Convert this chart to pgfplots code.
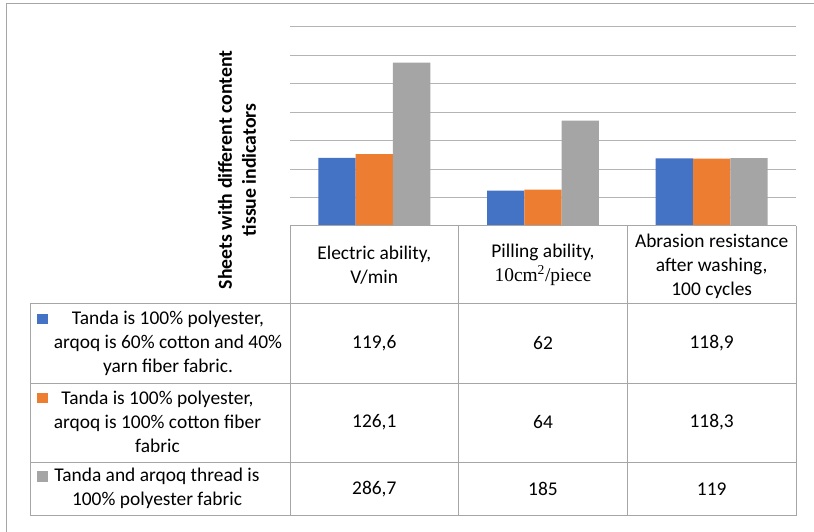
\documentclass[border=0pt]{standalone}
\usepackage{fontspec}
\setmainfont{Carlito}
\newfontfamily\serifface{Liberation Serif}
\usepackage{pgfplots}
\pgfplotsset{compat=1.18}
\definecolor{sblue}{HTML}{4472C4}
\definecolor{sorange}{HTML}{ED7D31}
\definecolor{sgray}{HTML}{A5A5A5}
\definecolor{gridc}{HTML}{B4B4B4}
\definecolor{tabc}{HTML}{A6A6A6}
\begin{document}
\begin{tikzpicture}
\useasboundingbox (0,0) rectangle (814bp,532bp);
\fill[white] (0,0) rectangle (814bp,532bp);
\begin{axis}[at={(290bp,306bp)}, anchor=south west, scale only axis,
  width=506bp, height=199.3bp, xmin=-0.5, xmax=2.5, ymin=0, ymax=350,
  ytick={50,100,...,350}, yticklabels={}, xtick=\empty,
  ymajorgrids, grid style={gridc, line width=1bp},
  axis line style={draw=none}, major tick length=0pt,
  ybar=0pt, bar width=37.3bp]
\addplot[fill=sblue, draw=none] coordinates {(0,119.6) (1,62) (2,118.9)};
\addplot[fill=sorange, draw=none] coordinates {(0,126.1) (1,64) (2,118.3)};
\addplot[fill=sgray, draw=none] coordinates {(0,286.7) (1,185) (2,119)};
\end{axis}
\node[rotate=90, align=center, inner sep=0pt, font=\fontsize{19.8}{24}\selectfont\bfseries] at (237bp,362bp) {Sheets with different content\\tissue indicators};
\begin{scope}[yshift=532bp, x=1bp, y=-1bp]
\draw[tabc, line width=1bp] (6.5,532) -- (6.5,4) -- (814,4);
\draw[tabc, line width=1bp] (290,226) -- (796,226);
\foreach \yy in {303.3,383.3,462.3,516} \draw[tabc, line width=1bp] (30,\yy) -- (796,\yy);
\foreach \xx in {290,458.7,627.3,796} \draw[tabc, line width=1bp] (\xx,226) -- (\xx,516);
\draw[tabc, line width=1bp] (30,303.3) -- (30,516);
\fill[sblue] (37,314) rectangle (47.5,324.5);
\fill[sorange] (37,393) rectangle (47.5,403.5);
\fill[sgray] (37,471.5) rectangle (47.5,482);
\tikzset{every node/.style={inner sep=0pt, align=center, font=\fontsize{19.5}{24}\selectfont}}
\node at (374.3,265) {Electric ability,\\V/min};
\node at (543,265) {Pilling ability,\\{\serifface 10cm\textsuperscript{2}/piece}};
\node at (711.7,266) {Abrasion resistance\\after washing,\\100 cycles};
\node at (168,343) {Tanda is 100\% polyester,\\arqoq is 60\% cotton and 40\%\\yarn fiber fabric.};
\node at (157.5,421.5) {Tanda is 100\% polyester,\\arqoq is 100\% cotton fiber\\fabric};
\node at (157,488.5) {Tanda and arqoq thread is\\100\% polyester fabric};
\node at (374.3,343) {119,6};
\node at (543,343) {62};
\node at (711.7,343) {118,9};
\node at (374.3,422) {126,1};
\node at (543,422) {64};
\node at (711.7,422) {118,3};
\node at (374.3,489) {286,7};
\node at (543,489) {185};
\node at (711.7,489) {119};
\end{scope}
\end{tikzpicture}
\end{document}
